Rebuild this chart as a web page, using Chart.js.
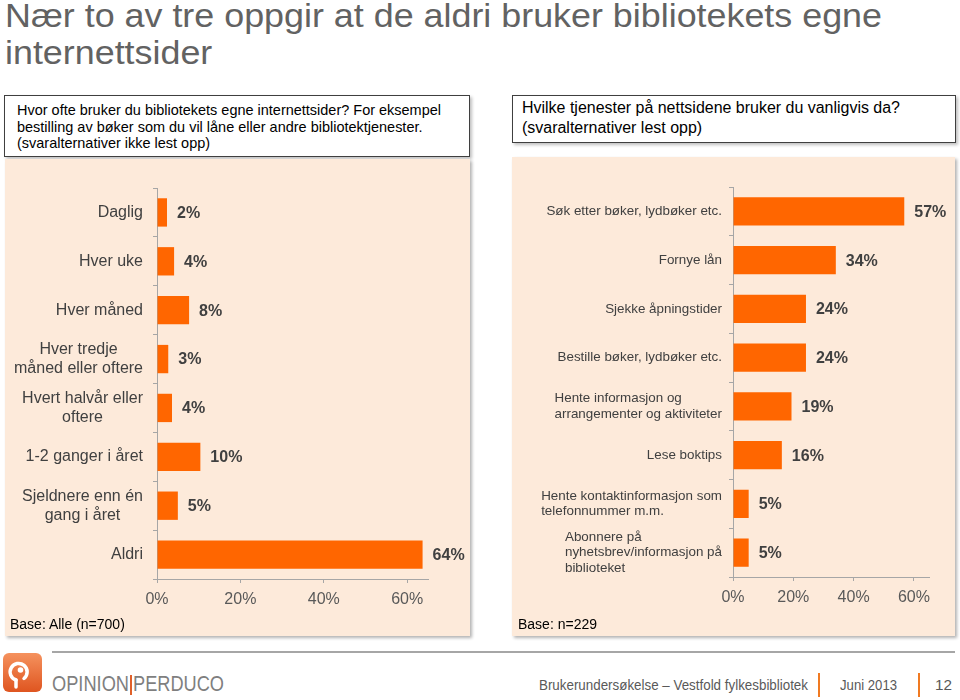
<!DOCTYPE html>
<html><head><meta charset="utf-8">
<script src="https://cdn.jsdelivr.net/npm/chart.js@4.4.1/dist/chart.umd.min.js"></script>
<style>
html,body{margin:0;padding:0;background:#fff;width:960px;height:700px;overflow:hidden;font-family:"Liberation Sans",Arial,sans-serif;}
.abs{position:absolute;white-space:nowrap;}
.fit{transform-origin:0 50%;display:inline-block;}
.box{position:absolute;background:#fff;border:1px solid #3f3f3f;box-shadow:2px 2px 3px rgba(0,0,0,0.25);box-sizing:border-box;}
.panel{position:absolute;background:#FDEADA;box-shadow:2px 2px 3px rgba(0,0,0,0.3);}
canvas{position:absolute;}
</style></head>
<body>
<script>
// ---- data ----
const freqCategories = ["Daglig","Hver uke","Hver måned",["Hver tredje","måned eller oftere"],["Hvert halvår eller","oftere"],"1-2 ganger i året",["Sjeldnere enn én","gang i året"],"Aldri"];
const freqValues = [2.4, 4.1, 7.7, 2.7, 3.6, 10.4, 5.0, 63.7];
const serviceCategories = ["Søk etter bøker, lydbøker etc.","Fornye lån","Sjekke åpningstider","Bestille bøker, lydbøker etc.",["Hente informasjon og","arrangementer og aktiviteter"],"Lese boktips",["Hente kontaktinformasjon som","telefonnummer m.m."],["Abonnere på","nyhetsbrev/informasjon på","biblioteket"]];
const serviceValues = [56.8, 34.1, 24.2, 24.2, 19.4, 16.2, 5.2, 5.2];
const axisTicks = [0, 20, 40, 60];
</script>

<div class="abs" id="title" style="left:5px;top:-3px;font-size:33px;line-height:37px;color:#626262;">
  <span class="fit" id="t1">Nær to av tre oppgir at de aldri bruker bibliotekets egne</span><br>
  <span class="fit" id="t2">internettsider</span>
</div>

<div class="box" style="left:4px;top:95px;width:466px;height:62px;"></div>
<div class="abs" style="left:17px;top:102px;font-size:15px;line-height:16.5px;color:#000;">
  <span class="fit q1">Hvor ofte bruker du bibliotekets egne internettsider? For eksempel</span><br>
  <span class="fit q1">bestilling av bøker som du vil låne eller andre bibliotektjenester.</span><br>
  <span class="fit q1">(svaralternativer ikke lest opp)</span>
</div>

<div class="box" style="left:512px;top:95px;width:444px;height:48px;"></div>
<div class="abs" style="left:522px;top:98px;font-size:16px;line-height:20px;color:#000;">
  <span class="fit q2">Hvilke tjenester på nettsidene bruker du vanligvis da?</span><br>
  <span class="fit q2">(svaralternativer lest opp)</span>
</div>

<div class="panel" style="left:5px;top:159px;width:465px;height:477px;"></div>
<div class="panel" style="left:512px;top:157px;width:443px;height:479px;"></div>

<canvas id="c1" width="465" height="477" style="left:5px;top:159px;"></canvas>
<canvas id="c2" width="443" height="479" style="left:512px;top:157px;"></canvas>

<div class="abs" style="left:10px;top:615px;font-size:14px;line-height:18px;color:#000;">Base: Alle (n=700)</div>
<div class="abs" style="left:518px;top:615px;font-size:14px;line-height:18px;color:#000;">Base: n=229</div>

<!-- footer -->
<div style="position:absolute;left:52px;top:651px;width:903px;height:2px;background:#a6a6a6;"></div>
<svg style="position:absolute;left:3px;top:653px" width="39" height="39" viewBox="0 0 39 39">
  <defs><linearGradient id="lg" x1="0" y1="0" x2="0" y2="1"><stop offset="0" stop-color="#F5925E"/><stop offset="1" stop-color="#DF5520"/></linearGradient></defs>
  <rect x="0" y="0" width="39" height="39" rx="6" fill="url(#lg)"/>
  <path d="M 13 27 A 8.5 8.5 0 1 1 21 25.5" fill="none" stroke="#fff" stroke-width="3.5" stroke-linecap="round"/>
  <path d="M 13 27 L 13 34" fill="none" stroke="#fff" stroke-width="3.5" stroke-linecap="round"/>
  <circle cx="17.5" cy="17" r="2.8" fill="#fff"/>
</svg>
<div class="abs" style="left:52px;top:672px;font-size:22px;line-height:24px;color:#7f7f7f;"><span class="fit" id="op" data-w="77">OPINION</span></div>
<div style="position:absolute;left:130px;top:675px;width:1.5px;height:20px;background:#E0602A;"></div>
<div class="abs" style="left:133px;top:672px;font-size:22px;line-height:24px;color:#7f7f7f;"><span class="fit" id="pe" data-w="91">PERDUCO</span></div>

<div class="abs" style="left:539px;top:676px;font-size:15px;line-height:18px;color:#595959;"><span class="fit" id="f1" data-w="269">Brukerundersøkelse – Vestfold fylkesbibliotek</span></div>
<div style="position:absolute;left:818px;top:673px;width:2px;height:24px;background:#F07A22;"></div>
<div class="abs" style="left:840px;top:676px;font-size:15px;line-height:18px;color:#595959;"><span class="fit" id="f2" data-w="57">Juni 2013</span></div>
<div style="position:absolute;left:918px;top:673px;width:2px;height:24px;background:#F07A22;"></div>
<div class="abs" style="left:935px;top:676px;font-size:15px;line-height:18px;color:#595959;"><span class="fit" id="f3" data-w="17">12</span></div>

<script>
// fit text widths
function fitEl(el, w){ const nat = el.getBoundingClientRect().width; const s = w/nat; el.style.transform = 'scaleX('+s+')'; return s; }
const sTitle = fitEl(document.getElementById('t1'), 877);
document.getElementById('t2').style.transform = 'scaleX('+sTitle+')';
const q1 = document.querySelectorAll('.q1'); const s1 = fitEl(q1[0], 424); q1.forEach(e=>e.style.transform='scaleX('+s1+')');
const q2 = document.querySelectorAll('.q2'); const s2 = fitEl(q2[0], 378); q2.forEach(e=>e.style.transform='scaleX('+s2+')');
['op','pe','f1','f2','f3'].forEach(id=>{const e=document.getElementById(id); fitEl(e, +e.dataset.w);});

const FONT = '"Liberation Sans", Arial, sans-serif';
const AX = '#a6a6a6';

const yLabelPlugin = {
  id:'yLabels',
  afterDraw(chart, args, opts){
    const ctx = chart.ctx, ys = chart.scales.y, labels = chart.data.labels;
    ctx.save();
    ctx.font = opts.size + 'px ' + FONT;
    ctx.fillStyle = '#404040';
    ctx.textBaseline = 'middle';
    const lh = opts.lh;
    labels.forEach((lab, i) => {
      const lines = Array.isArray(lab) ? lab : [lab];
      const yc = ys.getPixelForValue(i);
      const maxW = Math.max(...lines.map(l => ctx.measureText(l).width));
      const right = chart.chartArea.left - opts.gap;
      lines.forEach((l, k) => {
        const y = yc + (k - (lines.length - 1) / 2) * lh;
        if (lines.length === 1) { ctx.textAlign = 'right'; ctx.fillText(l, right, y); }
        else if (opts.align === 'center') { ctx.textAlign = 'center'; ctx.fillText(l, right - maxW / 2, y); }
        else { ctx.textAlign = 'left'; ctx.fillText(l, right - maxW, y); }
      });
    });
    ctx.restore();
  }
};
const valueLabelPlugin = {
  id:'valLabels',
  afterDatasetsDraw(chart){
    const ctx = chart.ctx;
    ctx.save();
    ctx.font = 'bold 16px ' + FONT;
    ctx.fillStyle = '#404040';
    ctx.textBaseline = 'middle'; ctx.textAlign = 'left';
    const meta = chart.getDatasetMeta(0);
    meta.data.forEach((bar, i) => {
      const v = chart.data.datasets[0].data[i];
      ctx.fillText(Math.round(v) + '%', bar.x + 10, bar.y + 1);
    });
    ctx.restore();
  }
};

function makeChart(id, labels, values, o){
  return new Chart(document.getElementById(id), {
    type:'bar',
    data:{ labels, datasets:[{ data:values, backgroundColor:'#FF6600', borderWidth:0, barPercentage:0.58, categoryPercentage:1 }] },
    options:{
      indexAxis:'y', responsive:false, animation:false,
      layout:{ padding:{ left:0, right:o.padR, top:o.padT, bottom:0 } },
      plugins:{ legend:{display:false}, tooltip:{enabled:false}, yLabels:{ size:o.labSize, lh:o.lh, gap:o.gap, align:o.align } },
      scales:{
        y:{ type:'category', ticks:{display:false},
            grid:{ drawOnChartArea:false, drawTicks:true, tickLength:4, color:AX, offset:true },
            border:{ color:AX },
            afterFit(s){ s.width = o.yW; } },
        x:{ min:0, max:65,
            ticks:{ stepSize:20, callback:v=>v+'%', color:'#595959', font:{ size:16, family:FONT }, padding:7 },
            afterBuildTicks(s){ s.ticks = axisTicks.map(v=>({value:v})); },
            grid:{ drawOnChartArea:false, drawTicks:true, tickLength:4, color:AX },
            border:{ color:AX },
            afterFit(s){ s.height = o.xH; } }
      }
    },
    plugins:[yLabelPlugin, valueLabelPlugin]
  });
}
makeChart('c1', freqCategories, freqValues, { padR:42, padT:29, yW:152, xH:57, labSize:16, lh:19, gap:14, align:'center' });
makeChart('c2', serviceCategories, serviceValues, { padR:26, padT:30, yW:221, xH:59, labSize:13.4, lh:15.6, gap:11, align:'left' });
</script>
</body></html>
